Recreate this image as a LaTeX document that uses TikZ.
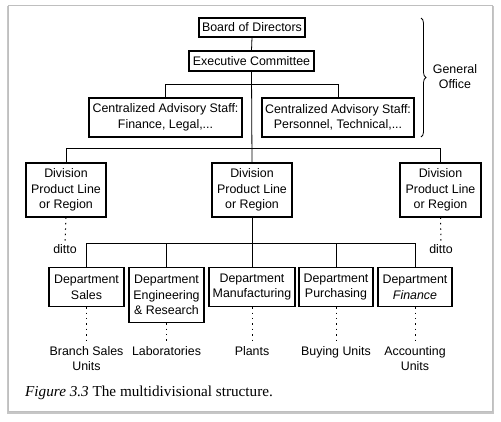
\documentclass[tikz,border=0pt]{standalone}
\usepackage{fontspec}
\setmainfont{Liberation Sans}
\newfontfamily\capfont{Liberation Serif}
\usetikzlibrary{positioning}
\usetikzlibrary{decorations.pathreplacing}
\begin{document}
\begin{tikzpicture}[x=1pt, y=-1pt, font=\fontsize{12.4}{15.5}\selectfont,
unitbox/.style={draw=black, fill=white, line width=1.1pt, align=center, inner sep=1pt},
deptbox/.style={unitbox, anchor=north, minimum height=39pt},
dotline/.style={line width=1pt, dash pattern=on 1.4pt off 4pt},
leaf/.style={anchor=north, align=center, inner sep=2pt}]
\useasboundingbox (0,0) rectangle (501,421);
\fill[gray!45] (6.5,5.5) rectangle (494,413.5);
\filldraw[fill=white, draw=gray!50, line width=0.5pt] (8.5,5) rectangle (492,411);

\node[unitbox, minimum width=106pt, minimum height=19pt] (board) at (252,27.5) {Board of Directors};
\node[unitbox, minimum width=125pt, minimum height=20pt] (exec) at (251.5,61) {Executive Committee};
\node[unitbox, minimum width=153pt, minimum height=39pt] (adv1) at (165.5,117.5) {Centralized Advisory Staff:\\Finance, Legal,...};
\node[unitbox, minimum width=152pt, minimum height=39pt] (adv2) at (338,117.5) {Centralized Advisory Staff:\\Personnel, Technical,...};
\node[align=center] (office) at (455,76.5) {General\\Office};

\node[unitbox, minimum width=80pt, minimum height=54pt] (div1) at (66,190) {Division\\Product Line\\or Region};
\node[unitbox, minimum width=80pt, minimum height=54pt] (div2) at (252,190) {Division\\Product Line\\or Region};
\node[unitbox, minimum width=81pt, minimum height=54pt] (div3) at (440.5,190) {Division\\Product Line\\or Region};
\node (ditto1) at (65,249) {ditto};
\node (ditto3) at (441,249) {ditto};

\node[deptbox, minimum width=75pt] (sales) at (86.5,267) {Department\\Sales};
\node[deptbox, minimum width=75pt, minimum height=55pt] (eng) at (166.5,267) {Department\\Engineering\\\& Research};
\node[deptbox, minimum width=86pt] (manu) at (252,267) {Department\\Manufacturing};
\node[deptbox, minimum width=74pt] (purch) at (336,267) {Department\\Purchasing};
\node[deptbox, minimum width=74pt] (fin) at (415,267) {Department\\\textit{Finance}};

\node[leaf] (branch) at (86.5,344) {Branch Sales\\Units};
\node[leaf] (labs) at (166.5,344) {Laboratories};
\node[leaf] (plants) at (252,344) {Plants};
\node[leaf] (buying) at (336,344) {Buying Units};
\node[leaf] (acct) at (415,344) {Accounting\\Units};

\node[anchor=base west, inner sep=0pt, font=\capfont\fontsize{15.2}{17}\selectfont] (caption) at (25,396) {\textit{Figure 3.3} The multidivisional structure.};

\draw[line width=0.8pt, decorate, decoration={brace, amplitude=5pt}] (421,18) -- (421,137);

\draw[line width=0.8pt] (board.south) -- (exec.north);
\draw[line width=0.8pt] (exec.south) -- (div2.north);
\draw[line width=0.8pt] (adv1.north) -- ++(0,-13) -| (adv2.north);
\draw[line width=0.8pt] (div1.north) -- ++(0,-14) -| (div3.north);
\draw[line width=0.8pt] (div2.south) -- (manu.north);
\draw[line width=0.8pt] (sales.north) -- ++(0,-24) -| (fin.north);
\draw[line width=0.8pt] (eng.north) -- ++(0,-24);
\draw[line width=0.8pt] (purch.north) -- ++(0,-24);

\draw[dotline] (div1.south) -- (ditto1.north);
\draw[dotline] (div3.south) -- (ditto3.north);
\draw[dotline] (sales.south) -- (branch.north);
\draw[dotline] (eng.south) -- (labs.north);
\draw[dotline] (manu.south) -- (plants.north);
\draw[dotline] (purch.south) -- (buying.north);
\draw[dotline] (fin.south) -- (acct.north);
\end{tikzpicture}
\end{document}
